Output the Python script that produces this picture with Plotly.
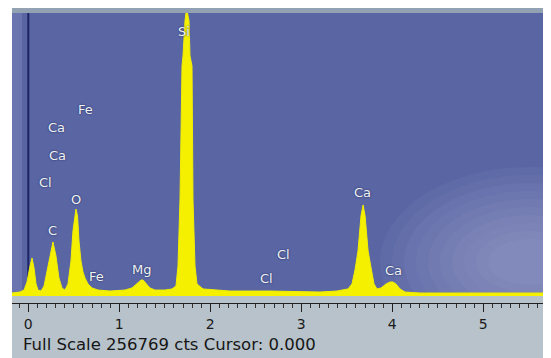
import plotly.graph_objects as go

# ---- data (energy in keV, counts in thousands) ----
energy_kev = [-0.179, -0.091, -0.047, -0.014, 0.019, 0.041, 0.063, 0.085, 0.107,
              0.140, 0.173, 0.205, 0.238, 0.271, 0.304, 0.337, 0.370, 0.403,
              0.436, 0.469, 0.491, 0.513, 0.524, 0.541, 0.557, 0.579, 0.601,
              0.623, 0.656, 0.700, 0.766, 0.898, 1.063, 1.140, 1.195, 1.239,
              1.261, 1.293, 1.337, 1.392, 1.502, 1.579, 1.623, 1.645, 1.667,
              1.689, 1.700, 1.722, 1.733, 1.749, 1.766, 1.777, 1.799, 1.810,
              1.832, 1.854, 1.876, 1.920, 2.216, 2.656, 3.205, 3.392, 3.513,
              3.557, 3.590, 3.623, 3.656, 3.679, 3.701, 3.734, 3.771, 3.799,
              3.832, 3.876, 3.931, 3.975, 4.008, 4.041, 4.085, 4.140, 4.305,
              5.747]
counts_k = [2.7, 3.6, 5.4, 12.7, 27.2, 34.5, 25.4, 10.9, 5.4,
            4.5, 9.1, 22.7, 38.1, 49.0, 36.3, 16.3, 7.3, 5.4,
            10.9, 31.8, 59.0, 76.2, 78.9, 72.6, 49.9, 31.8, 21.8,
            16.3, 10.9, 7.3, 5.4, 4.5, 5.4, 7.3, 11.8, 14.5,
            14.5, 11.8, 7.3, 5.4, 5.4, 6.4, 9.1, 27.2, 87.1,
            208.7, 217.8, 249.5, 256.8, 256.8, 249.5, 217.8, 208.7, 87.1,
            27.2, 10.9, 9.1, 6.4, 4.5, 4.5, 3.6, 4.5, 6.4,
            10.9, 23.6, 40.8, 72.6, 82.6, 72.6, 40.8, 23.6, 10.9,
            6.4, 7.3, 10.9, 12.7, 12.7, 10.9, 6.4, 3.6, 2.7,
            2.7]

full_scale_k = 256.769

label_text = ["Si", "Fe", "Ca", "Ca", "Cl", "O", "C", "Fe", "Mg", "Cl", "Cl", "Ca", "Ca"]
label_kev = [1.711, 0.634, 0.315, 0.326, 0.184, 0.524, 0.271, 0.744, 1.249, 2.799, 2.623, 3.678, 4.008]
label_k = [240.4, 168.8, 153.3, 127.9, 102.6, 88.0, 59.0, 18.1, 23.6, 37.2, 16.3, 93.5, 22.7]

tick_vals = [0, 1, 2, 3, 4, 5]
tick_text = ["0", "1", "2", "3", "4", "5"]
status_text = "Full Scale 256769 cts Cursor: 0.000"

# The page body has an 8 px margin; the figure fills the rest of the window.
OFF = 8
W, H = 551 - OFF, 358 - OFF
px = lambda x: max(0.0, min(1.0, (x - OFF) / W))
py = lambda y: max(0.0, min(1.0, (H - (y - OFF)) / H))

fig = go.Figure()
fig.add_trace(go.Scatter(
    x=energy_kev, y=counts_k, mode="lines",
    line=dict(color="#f2ee00", width=1),
    fill="tozeroy", fillcolor="#f4f000",
    hoverinfo="skip", showlegend=False,
))

shapes = [
    # top grey strip
    dict(type="rect", xref="paper", yref="paper", x0=px(12), x1=1, y0=py(13), y1=1,
         fillcolor="#93a2b2", line=dict(width=0), layer="below"),
]
# soft cloudy light area in the lower right of the background
cx, cy = 530, 262
for i in range(10):
    rx = 150 - i * 12
    ry = 95 - i * 8
    shapes.append(dict(type="circle", xref="paper", yref="paper",
                       x0=px(cx - rx), x1=(cx + rx - OFF) / W,
                       y0=(H - (cy + ry - OFF)) / H, y1=py(cy - ry),
                       fillcolor="#b4c0dc", opacity=0.06, line=dict(width=0), layer="below"))
shapes += [
    # grey ruler strip at the bottom
    dict(type="rect", xref="paper", yref="paper", x0=px(12), x1=1, y0=0, y1=py(296),
         fillcolor="#b7c2ca", line=dict(width=0), layer="below"),
    # faint light band at left edge
    dict(type="rect", xref="paper", yref="paper", x0=px(12), x1=px(22), y0=py(293), y1=py(13),
         fillcolor="#7a82b8", opacity=0.5, line=dict(width=0), layer="below"),
    # dark zero line
    dict(type="line", xref="x", yref="paper", x0=0, x1=0, y0=py(293), y1=py(13),
         line=dict(color="#1c2466", width=2), layer="below"),
]

annotations = [
    dict(x=xv, y=yv, xref="x", yref="y", text=t, showarrow=False,
         font=dict(family="DejaVu Sans", size=13, color="#eef2f4",
                   shadow="0px 0px 2px #1a2050"),
         xanchor="center", yanchor="middle")
    for t, xv, yv in zip(label_text, label_kev, label_k)
]
annotations.append(dict(
    x=px(21), y=py(344), xref="paper", yref="paper", text=status_text,
    showarrow=False, xanchor="left", yanchor="middle",
    font=dict(family="DejaVu Sans", size=16.5, color="#161616"),
))

fig.update_layout(
    width=W, height=H,
    margin=dict(l=0, r=0, t=0, b=0),
    paper_bgcolor="white",
    plot_bgcolor="#5a66a4",
    shapes=shapes,
    annotations=annotations,
    xaxis=dict(
        domain=[px(12), 1], range=[-0.1791, 5.744],
        anchor="free", position=py(303),
        showgrid=False, zeroline=False,
        showline=True, linecolor="#202020", linewidth=1,
        ticks="outside", ticklen=8, tickwidth=1, tickcolor="#202020",
        tickmode="array", tickvals=tick_vals, ticktext=tick_text,
        tickfont=dict(family="DejaVu Sans", size=14, color="#1a1a1a"),
        minor=dict(dtick=0.1, tick0=0, ticks="outside", ticklen=4,
                   tickwidth=1, tickcolor="#303030"),
        fixedrange=True,
    ),
    yaxis=dict(
        domain=[py(296), py(13)], range=[0, full_scale_k],
        visible=False, fixedrange=True,
    ),
)

fig.write_html("out.html")
